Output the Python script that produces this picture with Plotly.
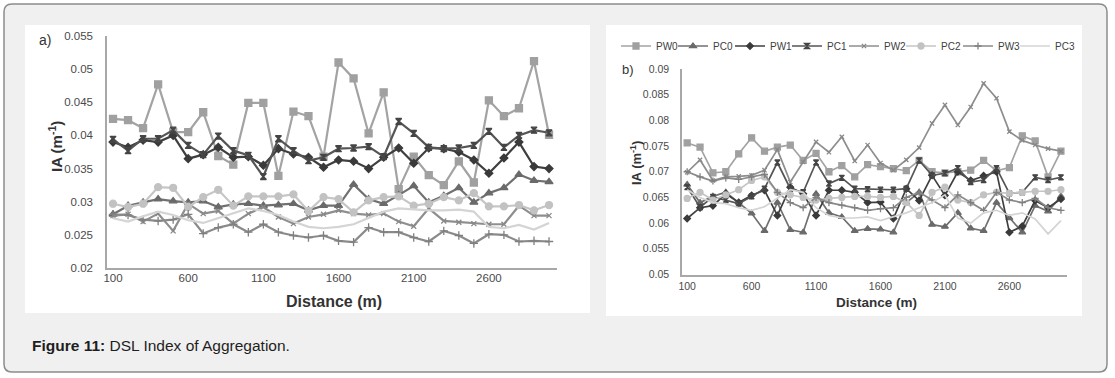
import plotly.graph_objects as go

# ---------------- data ----------------
distance = [100, 200, 300, 400, 500, 600, 700, 800, 900, 1000,
            1100, 1200, 1300, 1400, 1500, 1600, 1700, 1800, 1900, 2000,
            2100, 2200, 2300, 2400, 2500, 2600, 2700, 2800, 2900, 3000]
tick_labels = [100, 600, 1100, 1600, 2100, 2600]
series_names = ["PW0", "PC0", "PW1", "PC1", "PW2", "PC2", "PW3", "PC3"]

# panel a
a_PW0 = [0.0425, 0.0423, 0.0411, 0.0477, 0.0405, 0.0405, 0.0435, 0.0369, 0.0356, 0.0449,
         0.0449, 0.0339, 0.0436, 0.0429, 0.0368, 0.0510, 0.0486, 0.0403, 0.0465, 0.0319,
         0.0368, 0.0340, 0.0325, 0.0361, 0.0329, 0.0453, 0.0429, 0.0441, 0.0512, 0.0401]
a_PC0 = [0.0281, 0.0294, 0.0299, 0.0304, 0.0301, 0.0299, 0.0301, 0.0292, 0.0296, 0.0297,
         0.0294, 0.0295, 0.0297, 0.0287, 0.0294, 0.0294, 0.0326, 0.0304, 0.0297, 0.0310,
         0.0324, 0.0299, 0.0309, 0.0321, 0.0299, 0.0313, 0.0321, 0.0341, 0.0332, 0.0330]
a_PW1 = [0.0390, 0.0382, 0.0393, 0.0390, 0.0400, 0.0365, 0.0371, 0.0382, 0.0367, 0.0368,
         0.0355, 0.0380, 0.0372, 0.0367, 0.0352, 0.0363, 0.0361, 0.0350, 0.0367, 0.0381,
         0.0358, 0.0381, 0.0380, 0.0375, 0.0363, 0.0343, 0.0366, 0.0390, 0.0353, 0.0350]
a_PC1 = [0.0394, 0.0377, 0.0395, 0.0395, 0.0408, 0.0385, 0.0371, 0.0399, 0.0377, 0.0370,
         0.0338, 0.0395, 0.0377, 0.0362, 0.0367, 0.0380, 0.0381, 0.0383, 0.0368, 0.0421,
         0.0403, 0.0382, 0.0380, 0.0381, 0.0385, 0.0406, 0.0382, 0.0400, 0.0408, 0.0404]
a_PW2 = [0.0279, 0.0281, 0.0270, 0.0282, 0.0256, 0.0297, 0.0282, 0.0286, 0.0267, 0.0282,
         0.0292, 0.0277, 0.0267, 0.0277, 0.0281, 0.0287, 0.0282, 0.0280, 0.0282, 0.0270,
         0.0263, 0.0290, 0.0271, 0.0269, 0.0267, 0.0266, 0.0266, 0.0294, 0.0279, 0.0279]
a_PC2 = [0.0297, 0.0292, 0.0297, 0.0322, 0.0321, 0.0292, 0.0307, 0.0318, 0.0294, 0.0308,
         0.0308, 0.0308, 0.0311, 0.0286, 0.0307, 0.0304, 0.0284, 0.0302, 0.0307, 0.0308,
         0.0294, 0.0297, 0.0307, 0.0302, 0.0313, 0.0293, 0.0293, 0.0295, 0.0287, 0.0295]
a_PW3 = [0.0281, 0.0280, 0.0273, 0.0271, 0.0273, 0.0281, 0.0252, 0.0261, 0.0266, 0.0254,
         0.0266, 0.0254, 0.0249, 0.0246, 0.0249, 0.0241, 0.0239, 0.0261, 0.0254, 0.0254,
         0.0246, 0.0240, 0.0256, 0.0249, 0.0237, 0.0251, 0.0250, 0.0240, 0.0241, 0.0240]
a_PC3 = [0.0275, 0.0270, 0.0278, 0.0285, 0.0280, 0.0272, 0.0268, 0.0275, 0.0282, 0.0290,
         0.0286, 0.0280, 0.0270, 0.0262, 0.0260, 0.0262, 0.0266, 0.0275, 0.0285, 0.0290,
         0.0288, 0.0287, 0.0287, 0.0288, 0.0285, 0.0262, 0.0260, 0.0265, 0.0258, 0.0268]

# panel b
b_PW0 = [0.0756, 0.0748, 0.0698, 0.0700, 0.0735, 0.0766, 0.0740, 0.0748, 0.0752, 0.0722,
         0.0736, 0.0700, 0.0712, 0.0690, 0.0714, 0.0710, 0.0706, 0.0702, 0.0722, 0.0700,
         0.0698, 0.0700, 0.0703, 0.0722, 0.0702, 0.0708, 0.0770, 0.0760, 0.0690, 0.0740]
b_PC0 = [0.0675, 0.0640, 0.0652, 0.0660, 0.0640, 0.0619, 0.0585, 0.0640, 0.0587, 0.0582,
         0.0657, 0.0620, 0.0612, 0.0585, 0.0589, 0.0588, 0.0582, 0.0640, 0.0660, 0.0597,
         0.0593, 0.0620, 0.0590, 0.0585, 0.0640, 0.0610, 0.0582, 0.0634, 0.0623, 0.0652]
b_PW1 = [0.0609, 0.0630, 0.0634, 0.0657, 0.0640, 0.0654, 0.0664, 0.0615, 0.0670, 0.0657,
         0.0615, 0.0664, 0.0664, 0.0660, 0.0640, 0.0641, 0.0609, 0.0667, 0.0644, 0.0693,
         0.0654, 0.0700, 0.0683, 0.0692, 0.0700, 0.0582, 0.0594, 0.0644, 0.0630, 0.0647]
b_PC1 = [0.0670, 0.0631, 0.0651, 0.0645, 0.0638, 0.0652, 0.0667, 0.0718, 0.0667, 0.0660,
         0.0718, 0.0677, 0.0688, 0.0667, 0.0666, 0.0665, 0.0665, 0.0667, 0.0722, 0.0693,
         0.0697, 0.0707, 0.0680, 0.0684, 0.0707, 0.0658, 0.0660, 0.0689, 0.0684, 0.0689]
b_PW2 = [0.0699, 0.0723, 0.0683, 0.0690, 0.0691, 0.0693, 0.0703, 0.0743, 0.0680, 0.0719,
         0.0758, 0.0738, 0.0768, 0.0721, 0.0752, 0.0717, 0.0703, 0.0723, 0.0747, 0.0794,
         0.0830, 0.0791, 0.0826, 0.0872, 0.0843, 0.0778, 0.0761, 0.0752, 0.0745, 0.0740]
b_PC2 = [0.0648, 0.0660, 0.0645, 0.0655, 0.0665, 0.0683, 0.0690, 0.0660, 0.0655, 0.0650,
         0.0645, 0.0648, 0.0650, 0.0652, 0.0652, 0.0650, 0.0652, 0.0640, 0.0615, 0.0660,
         0.0670, 0.0645, 0.0640, 0.0655, 0.0660, 0.0658, 0.0660, 0.0662, 0.0662, 0.0665]
b_PW3 = [0.0700, 0.0690, 0.0682, 0.0688, 0.0685, 0.0690, 0.0695, 0.0660, 0.0640, 0.0630,
         0.0650, 0.0640, 0.0635, 0.0630, 0.0625, 0.0628, 0.0630, 0.0650, 0.0660, 0.0645,
         0.0630, 0.0655, 0.0640, 0.0625, 0.0660, 0.0645, 0.0640, 0.0648, 0.0630, 0.0625]
b_PC3 = [0.0665, 0.0650, 0.0640, 0.0638, 0.0630, 0.0625, 0.0632, 0.0648, 0.0665, 0.0660,
         0.0630, 0.0615, 0.0610, 0.0610, 0.0612, 0.0605, 0.0612, 0.0620, 0.0630, 0.0640,
         0.0655, 0.0610, 0.0600, 0.0620, 0.0625, 0.0615, 0.0620, 0.0608, 0.0579, 0.0605]

panel_a = [a_PW0, a_PC0, a_PW1, a_PC1, a_PW2, a_PC2, a_PW3, a_PC3]
panel_b = [b_PW0, b_PC0, b_PW1, b_PC1, b_PW2, b_PC2, b_PW3, b_PC3]

# ---------------- styles ----------------
W, H = 1115, 378
FONT = "Arial, Liberation Sans, sans-serif"
styles = {
    "PW0": dict(color="#a3a3a3", symbol="square", size=7, mcolor="#a0a0a0"),
    "PC0": dict(color="#707070", symbol="triangle-up", size=7, mcolor="#6a6a6a"),
    "PW1": dict(color="#3f3f3f", symbol="diamond", size=6, mcolor="#3a3a3a"),
    "PC1": dict(color="#555555", symbol="hourglass", size=6, mcolor="#454545"),
    "PW2": dict(color="#8e8e8e", symbol="x-thin", size=5, mcolor="#888888"),
    "PC2": dict(color="#c6c6c6", symbol="circle", size=7, mcolor="#c2c2c2"),
    "PW3": dict(color="#8a8a8a", symbol="cross-thin", size=6, mcolor="#808080"),
    "PC3": dict(color="#d4d4d4", symbol=None, size=0, mcolor="#d4d4d4"),
}


def px(x):
    return x / W


def py(y):
    return 1 - y / H


fig = go.Figure()

for panel, xa, ya, lw, scale, show in [(panel_a, "x", "y", 2.2, 1.0, False),
                                        (panel_b, "x2", "y2", 1.7, 0.85, True)]:
    for name, vals in zip(series_names, panel):
        st = styles[name]
        if st["symbol"] is None:
            mode = "lines"
            marker = None
        else:
            mode = "lines+markers"
            marker = dict(symbol=st["symbol"], size=st["size"] * scale, color=st["mcolor"],
                          line=dict(color=st["mcolor"], width=1.3))
        fig.add_trace(go.Scatter(
            x=distance, y=vals, name=name, mode=mode, xaxis=xa, yaxis=ya,
            line=dict(color=st["color"], width=lw), marker=marker,
            showlegend=show, hoverinfo="x+y+name",
            legendwidth=(30 if name == "PC3" else 12)))

axis_common = dict(showgrid=False, zeroline=False, showline=True, linecolor="#a8a8a8",
                   linewidth=1.5, ticks="", tickfont=dict(family=FONT, color="#4a4a4a"))

fig.update_layout(
    width=W, height=H, margin=dict(l=0, r=0, t=0, b=0, autoexpand=False),
    paper_bgcolor="white", plot_bgcolor="rgba(0,0,0,0)",
    font=dict(family=FONT, color="#333333"),
    xaxis=dict(axis_common, domain=[px(107), px(557)], range=[60, 3053],
               tickvals=tick_labels, ticktext=[str(t) for t in tick_labels],
               tickfont=dict(family=FONT, color="#4a4a4a", size=11.5), anchor="y",
               ticklabelstandoff=-2),
    yaxis=dict(axis_common, domain=[py(268), py(36)], range=[0.02, 0.055], dtick=0.005,
               tickfont=dict(family=FONT, color="#4a4a4a", size=11.5),
               anchor="x", ticklabelstandoff=10),
    xaxis2=dict(axis_common, domain=[px(682), px(1067)], range=[60, 3047],
                tickvals=tick_labels, ticktext=[str(t) for t in tick_labels],
                tickfont=dict(family=FONT, color="#4a4a4a", size=10.5), anchor="y2",
                ticklabelstandoff=1),
    yaxis2=dict(axis_common, domain=[py(274.5), py(69)], range=[0.05, 0.09], dtick=0.005,
                tickfont=dict(family=FONT, color="#4a4a4a", size=10.5), anchor="x2",
                ticklabelstandoff=9),
    legend=dict(orientation="h", x=px(616), y=py(46), xanchor="left", yanchor="middle",
                entrywidthmode="pixels", bgcolor="rgba(0,0,0,0)",
                font=dict(family=FONT, size=10, color="#404040"), itemclick=False,
                tracegroupgap=0, borderwidth=0),
)

fig.update_yaxes(tickformat="~g")

# ---------------- background boxes ----------------
r = 8
x0, x1, y0, y1 = 4, 1107, 4, 372
path = (f"M {px(x0 + r)} {py(y0)} L {px(x1 - r)} {py(y0)} Q {px(x1)} {py(y0)} {px(x1)} {py(y0 + r)} "
        f"L {px(x1)} {py(y1 - r)} Q {px(x1)} {py(y1)} {px(x1 - r)} {py(y1)} "
        f"L {px(x0 + r)} {py(y1)} Q {px(x0)} {py(y1)} {px(x0)} {py(y1 - r)} "
        f"L {px(x0)} {py(y0 + r)} Q {px(x0)} {py(y0)} {px(x0 + r)} {py(y0)} Z")
fig.add_shape(type="path", path=path, xref="paper", yref="paper", layer="below",
              fillcolor="#f0f0f0", line=dict(color="#8c8c8c", width=1.5))
fig.add_shape(type="rect", xref="paper", yref="paper", layer="below",
              x0=px(25), x1=px(590), y0=py(313), y1=py(25),
              fillcolor="white", line=dict(width=0))
fig.add_shape(type="rect", xref="paper", yref="paper", layer="below",
              x0=px(606), x1=px(1082), y0=py(316), y1=py(25),
              fillcolor="white", line=dict(width=0))


# ---------------- text ----------------
def ann(text, x, y, size, xanchor="center", angle=0, color="#222222"):
    fig.add_annotation(text=text, x=px(x), y=py(y), xref="paper", yref="paper",
                       xanchor=xanchor, yanchor="middle", showarrow=False, textangle=angle,
                       font=dict(family=FONT, size=size, color=color))


ann("a)", 37, 40, 14, xanchor="left", color="#333333")
ann("b)", 620, 70, 13, xanchor="left", color="#333333")
ann("<b>Distance (m)</b>", 334, 301, 16, color="#333333")
ann("<b>Distance (m)</b>", 876, 302, 13.5, color="#333333")
ann("<b>IA (m<sup>-1</sup>)</b>", 55, 146, 15, angle=-90, color="#333333")
ann("<b>IA (m<sup>-1</sup>)</b>", 636, 163, 13, angle=-90, color="#333333")
ann("<b>Figure 11:</b> DSL Index of Aggregation.", 30, 345, 15.5, xanchor="left",
    color="#1e1e1e")

fig.write_html("out.html", config={"displayModeBar": False},
               post_script="document.body.style.margin='0';document.body.style.padding='0';")
